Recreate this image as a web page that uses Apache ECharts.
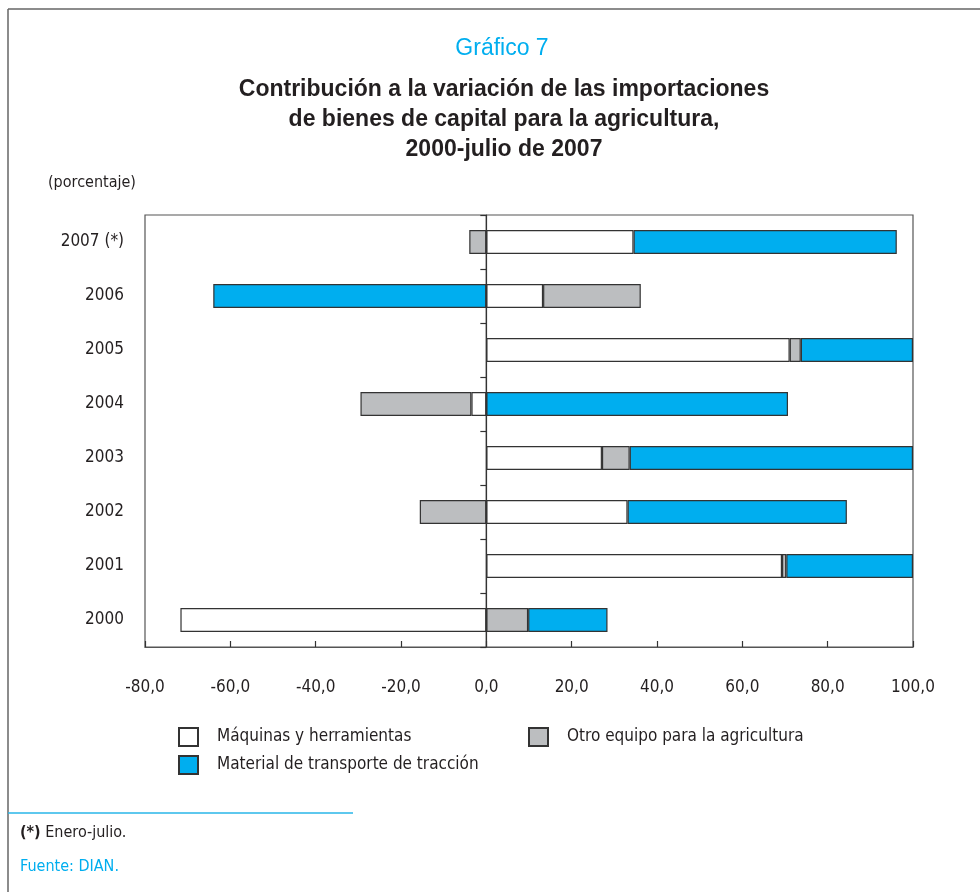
<!DOCTYPE html>
<html><head><meta charset="utf-8">
<script src="https://cdn.jsdelivr.net/npm/echarts@6/dist/echarts.min.js"></script>
<style>html,body{margin:0;padding:0;background:#fff}#c{width:980px;height:892px}</style>
</head><body><div id="c"></div>
<script>
const categories = ['2000','2001','2002','2003','2004','2005','2006','2007 (*)'];
const maquinas = [-71.7, 69.3, 33.1, 27.1, -3.5, 71.1, 13.3, 34.5];
const otroEquipo = [9.8, 1.0, -15.6, 6.5, -26.0, 2.6, 22.9, -4.0];
const transporte = [18.6, 29.7, 51.4, 66.4, 70.7, 26.3, -64.0, 61.7];
const xTicks = [-80, -60, -40, -20, 0, 20, 40, 60, 80, 100];
const seriesNames = ['Máquinas y herramientas', 'Otro equipo para la agricultura', 'Material de transporte de tracción'];

const NARROW = "'Liberation Sans Narrow','DejaVu Sans Condensed',sans-serif";
const SANS = "'Liberation Sans',Arial,sans-serif";
const BLUE = '#00aeef';
const TXT = '#231f20';

const chart = echarts.init(document.getElementById('c'));
const barStyle = (color) => ({ color: color, borderColor: '#333', borderWidth: 1.2 });

const GRID = { left: 145, right: 67, top: 215, height: 432 };

chart.setOption({
  animation: false,
  backgroundColor: '#fff',
  grid: Object.assign({ show: true, borderColor: '#555', borderWidth: 1.2, backgroundColor: 'transparent' }, GRID),
  xAxis: {
    type: 'value', min: xTicks[0], max: xTicks[xTicks.length - 1], interval: 20,
    splitLine: { show: false },
    axisLine: { show: true, onZero: false, lineStyle: { color: '#555', width: 1.2 } },
    axisTick: { show: true, inside: true, length: 6, lineStyle: { color: '#333', width: 1.2 } },
    axisLabel: { margin: 32, fontFamily: NARROW, fontSize: 17, color: TXT,
      formatter: v => v.toFixed(1).replace('.', ',') }
  },
  yAxis: [
    { type: 'category', data: categories,
      axisLine: { show: false, onZero: false }, axisTick: { show: false },
      axisLabel: { margin: 21, fontFamily: NARROW, fontSize: 17, color: TXT } },
    { type: 'category', data: categories, position: 'left',
      axisLine: { show: true, onZero: true, onZeroAxisIndex: 0, lineStyle: { color: '#333', width: 1.2 } },
      axisTick: { show: true, inside: false, length: 6, lineStyle: { color: '#333', width: 1.2 } },
      axisLabel: { show: false } }
  ],
  legend: [
    { data: [seriesNames[0]], left: 178, top: 727 },
    { data: [seriesNames[1]], left: 528, top: 727 },
    { data: [seriesNames[2]], left: 178, top: 755 }
  ].map(l => Object.assign(l, {
    orient: 'horizontal', icon: 'rect', itemWidth: 19, itemHeight: 18, selectedMode: false, padding: 0,
    textStyle: { fontFamily: NARROW, fontSize: 17, color: TXT, padding: [0, 0, 0, 14] }
  })),
  series: [
    { name: seriesNames[0], type: 'bar', stack: 'a', data: maquinas, barWidth: 24, itemStyle: barStyle('#ffffff') },
    { name: seriesNames[1], type: 'bar', stack: 'a', data: otroEquipo, barWidth: 24, itemStyle: barStyle('#bcbec0') },
    { name: seriesNames[2], type: 'bar', stack: 'a', data: transporte, barWidth: 24, itemStyle: barStyle(BLUE) }
  ],
  graphic: [
    { type: 'line', shape: { x1: 8, y1: 9, x2: 980, y2: 9 }, style: { stroke: '#666', lineWidth: 1.5 } },
    { type: 'line', shape: { x1: 8, y1: 9, x2: 8, y2: 892 }, style: { stroke: '#666', lineWidth: 1.5 } },
    { type: 'line', shape: { x1: 8, y1: 813, x2: 353, y2: 813 }, style: { stroke: '#29b6e8', lineWidth: 1.5 } },
    { type: 'text', x: 502, y: 37, style: { text: 'Gráfico 7', font: "23px " + SANS, fill: BLUE, align: 'center' } },
    { type: 'text', x: 504, y: 75, style: { text: 'Contribución a la variación de las importaciones\nde bienes de capital para la agricultura,\n2000-julio de 2007',
        font: "bold 23px " + SANS, fill: TXT, align: 'center', lineHeight: 30 } },
    { type: 'text', x: 48, y: 175, style: { text: '(porcentaje)', font: "16px " + NARROW, fill: TXT } },
    { type: 'text', x: 20, y: 825, style: { text: '{b|(*)} Enero-julio.', font: "16px " + NARROW, fill: TXT,
        rich: { b: { fontWeight: 'bold', fontFamily: NARROW, fontSize: 16, fill: TXT } } } },
    { type: 'text', x: 20, y: 859, style: { text: 'Fuente: DIAN.', font: "16px " + NARROW, fill: BLUE } }
  ]
});

// zero reference line, positioned through the x scale
const zx = chart.convertToPixel({ xAxisIndex: 0 }, 0);
chart.setOption({
  graphic: [{ id: 'zeroLine', type: 'line', z: 100,
    shape: { x1: zx, y1: GRID.top, x2: zx, y2: GRID.top + GRID.height },
    style: { stroke: '#333', lineWidth: 1.3 } }]
});
</script></body></html>
